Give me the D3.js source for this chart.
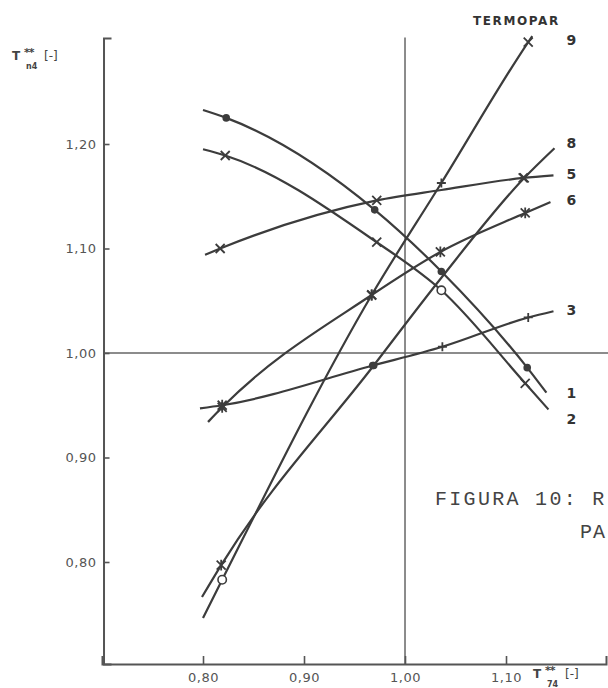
<!DOCTYPE html>
<html>
<head>
<meta charset="utf-8">
<script src="https://cdn.jsdelivr.net/npm/d3@7"></script>
<style>
  html, body { margin: 0; padding: 0; background: #fff; }
  svg { display: block; }
</style>
</head>
<body>
<svg id="chart" width="608" height="688"></svg>
<script>
// ---------- data ----------
const termopar = ["1", "2", "3", "5", "6", "8", "9"];

const t1X = [0.800, 0.823, 0.970, 1.036, 1.121, 1.140];
const t1Y = [1.2325, 1.225, 1.137, 1.078, 0.986, 0.962];
const t1M = [null, "dot", "dot", "dot", "dot", null];

const t2X = [0.800, 0.822, 0.972, 1.036, 1.119, 1.142];
const t2Y = [1.195, 1.189, 1.106, 1.060, 0.971, 0.946];
const t2M = [null, "x", "x", "o", "x", null];

const t3X = [0.797, 0.819, 0.968, 1.037, 1.122, 1.147];
const t3Y = [0.947, 0.950, 0.988, 1.006, 1.034, 1.040];
const t3M = [null, "*", "dot", "+", "+", null];

const t5X = [0.802, 0.817, 0.972, 1.036, 1.117, 1.147];
const t5Y = [1.094, 1.100, 1.146, 1.156, 1.1675, 1.170];
const t5M = [null, "x", "x", null, "x", null];

const t6X = [0.805, 0.819, 0.967, 1.035, 1.119, 1.144];
const t6Y = [0.934, 0.948, 1.0555, 1.0967, 1.134, 1.1445];
const t6M = [null, "*", "*", "*", "*", null];

const t8X = [0.799, 0.818, 0.969, 1.036, 1.118, 1.148];
const t8Y = [0.7665, 0.797, 0.988, 1.072, 1.1675, 1.196];
const t8M = [null, "*", "dot", null, "x", null];

const t9X = [0.800, 0.819, 0.967, 1.036, 1.122, 1.126];
const t9Y = [0.7464, 0.783, 1.0555, 1.1627, 1.2976, 1.3033];
const t9M = [null, "o", "*", "+", "x", null];

const xTicks = [0.80, 0.90, 1.00, 1.10];
const xTickLabels = ["0,80", "0,90", "1,00", "1,10"];
const yTicks = [0.80, 0.90, 1.00, 1.10, 1.20];
const yTickLabels = ["0,80", "0,90", "1,00", "1,10", "1,20"];
const refX = 1.00, refY = 1.00;

// ---------- build ----------
const series = [
  [t1X, t1Y, t1M], [t2X, t2Y, t2M], [t3X, t3Y, t3M], [t5X, t5Y, t5M],
  [t6X, t6Y, t6M], [t8X, t8Y, t8M], [t9X, t9Y, t9M]
].map((d, i) => ({
  name: termopar[i],
  pts: d[0].map((xv, j) => ({ x: xv, y: d[1][j], m: d[2][j] }))
}));

const svg = d3.select("#chart");
const x = d3.scaleLinear().domain([0.700, 1.199]).range([102, 606]);
const y = d3.scaleLinear().domain([0.70239, 1.30144]).range([664, 38]);

const ink = "#3c3c3c";
const gray = "#555";

// reference lines at 1,00
svg.append("line")
  .attr("x1", x(0.7015)).attr("x2", 608)
  .attr("y1", y(refY)).attr("y2", y(refY))
  .attr("stroke", "#666").attr("stroke-width", 1.6);
svg.append("line")
  .attr("x1", x(refX)).attr("x2", x(refX))
  .attr("y1", y(1.3020)).attr("y2", y(0.70239))
  .attr("stroke", "#666").attr("stroke-width", 1.5);

// axes
const yAxis = d3.axisLeft(y)
  .tickValues(yTicks)
  .tickFormat((d, i) => yTickLabels[i])
  .tickSize(-6).tickSizeOuter(-8).tickPadding(7);
const gy = svg.append("g").attr("transform", `translate(${x(0.7015)},0)`).call(yAxis);

const xAxis = d3.axisBottom(x)
  .tickValues(xTicks)
  .tickFormat((d, i) => xTickLabels[i])
  .tickSize(-8).tickSizeOuter(-8).tickPadding(9);
const gx = svg.append("g").attr("transform", `translate(0,${y(0.70239)})`).call(xAxis);

[gx, gy].forEach(g => {
  g.select(".domain").attr("stroke", gray).attr("stroke-width", 2);
  g.selectAll(".tick line").attr("stroke", gray).attr("stroke-width", 1.6);
  g.selectAll(".tick text")
    .attr("fill", "#555")
    .attr("font-family", "'DejaVu Sans', sans-serif")
    .attr("font-size", 13)
    .attr("letter-spacing", 0.5);
});

// curves
const line = d3.line().x(d => x(d.x)).y(d => y(d.y)).curve(d3.curveMonotoneX);
svg.append("g").selectAll("path.curve")
  .data(series).join("path")
  .attr("class", "curve")
  .attr("d", d => line(d.pts))
  .attr("fill", "none")
  .attr("stroke", ink)
  .attr("stroke-width", 2.2);

// markers
function markerPath(kind, s) {
  if (kind === "x") return `M${-s},${-s}L${s},${s}M${-s},${s}L${s},${-s}`;
  if (kind === "+") return `M${-s},0L${s},0M0,${-s}L0,${s}`;
  if (kind === "*") return `M${-s},${-s}L${s},${s}M${-s},${s}L${s},${-s}M0,${-s * 1.2}L0,${s * 1.2}`;
  return null;
}
const mk = svg.append("g");
series.forEach(s => {
  s.pts.filter(p => p.m).forEach(p => {
    const cx = x(p.x), cy = y(p.y);
    if (p.m === "dot") {
      mk.append("circle").attr("cx", cx).attr("cy", cy).attr("r", 3.8).attr("fill", ink);
    } else if (p.m === "o") {
      mk.append("circle").attr("cx", cx).attr("cy", cy).attr("r", 4.2)
        .attr("fill", "#fff").attr("stroke", ink).attr("stroke-width", 1.6);
    } else {
      mk.append("path").attr("transform", `translate(${cx},${cy})`)
        .attr("d", markerPath(p.m, 4.5))
        .attr("fill", "none").attr("stroke", ink).attr("stroke-width", 1.8);
    }
  });
});

// series labels
const labelDy = { "1": 0, "2": 10, "3": -1, "5": -1, "6": -2, "8": -5, "9": 4 };
svg.append("g").selectAll("text")
  .data(series).join("text")
  .attr("x", x(1.160))
  .attr("y", d => y(d.pts[d.pts.length - 1].y) + labelDy[d.name])
  .attr("dy", "0.36em")
  .attr("font-family", "'DejaVu Sans', sans-serif")
  .attr("font-size", 14)
  .attr("font-weight", "bold")
  .attr("fill", "#333")
  .text(d => d.name);

svg.append("text")
  .attr("x", 473).attr("y", 25)
  .attr("font-family", "'DejaVu Sans', sans-serif")
  .attr("font-size", 12).attr("font-weight", "bold")
  .attr("letter-spacing", 1.6)
  .attr("fill", "#333")
  .text("TERMOPAR");

// axis titles
const tf = "'DejaVu Sans', sans-serif";
function axisTitle(x0, y0, sub) {
  const g = svg.append("g").attr("fill", "#444").attr("font-family", tf).attr("font-weight", "bold");
  g.append("text").attr("x", x0).attr("y", y0).attr("font-size", 12).text("T");
  g.append("text").attr("x", x0 + 12).attr("y", y0 - 4).attr("font-size", 11).attr("letter-spacing", -1).text("**");
  g.append("text").attr("x", x0 + 14).attr("y", y0 + 9).attr("font-size", 8).text(sub);
  g.append("text").attr("x", x0 + 32).attr("y", y0).attr("font-size", 12).attr("font-weight", "normal").text("[-]");
}
axisTitle(12, 60, "n4");
axisTitle(533, 678, "74");

// caption fragment
const cap = svg.append("g").attr("fill", "#444")
  .attr("font-family", "'Liberation Mono', 'DejaVu Sans Mono', monospace")
  .attr("font-size", 20).attr("letter-spacing", 2.3);
cap.append("text").attr("x", 435).attr("y", 505).text("FIGURA 10: R");
cap.append("text").attr("x", 580).attr("y", 538).attr("letter-spacing", 1).text("PA");
</script>
</body>
</html>
